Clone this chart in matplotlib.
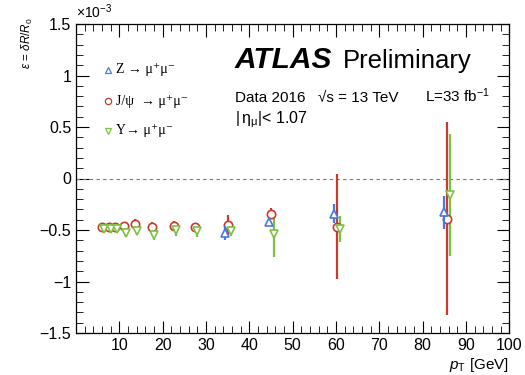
import matplotlib
matplotlib.use("Agg")
import matplotlib.pyplot as plt
from matplotlib.ticker import MultipleLocator

plt.rcParams['font.family'] = ['Liberation Sans', 'DejaVu Sans']
plt.rcParams['mathtext.fontset'] = 'custom'
plt.rcParams['mathtext.rm'] = 'Liberation Sans'
plt.rcParams['mathtext.it'] = 'Liberation Sans:italic'

# J/psi -> mu mu
jpsi_pt = [6, 7.5, 9, 11, 13.5, 17.5, 22.5, 27.5, 35, 45, 60.3, 85.7]
jpsi_eps = [-0.47, -0.47, -0.47, -0.46, -0.44, -0.47, -0.46, -0.475, -0.45, -0.34, -0.47, -0.39]
jpsi_err = [0.03, 0.03, 0.03, 0.04, 0.05, 0.05, 0.05, 0.04, 0.10, 0.05, 0.51, 0.94]

# Upsilon -> mu mu
ups_pt = [6.5, 8, 9.5, 11.5, 14, 18, 23, 28, 35.8, 45.7, 61, 86.3]
ups_eps = [-0.49, -0.49, -0.49, -0.53, -0.51, -0.55, -0.50, -0.51, -0.51, -0.54, -0.49, -0.16]
ups_err = [0.02, 0.02, 0.02, 0.04, 0.04, 0.05, 0.06, 0.06, 0.05, 0.22, 0.13, 0.59]

# Z -> mu mu
z_pt = [34.4, 44.6, 59.6, 85]
z_eps = [-0.53, -0.42, -0.34, -0.33]
z_err = [0.07, 0.03, 0.09, 0.16]

c_z = '#4a78e0'
c_jpsi = '#cc3a2e'
c_ups = '#7cc242'

fig = plt.figure(figsize=(5.25, 3.75), dpi=100)
ax = fig.add_axes([0.145, 0.112, 0.825, 0.824])

ax.axhline(0, color='#777777', lw=0.8, ls=(0, (3, 3)))

ax.errorbar(jpsi_pt, jpsi_eps, yerr=jpsi_err, fmt='o', ms=6, mfc='white',
            mec=c_jpsi, ecolor=c_jpsi, elinewidth=1.6, mew=1.2, capsize=0, zorder=3)
ax.errorbar(ups_pt, ups_eps, yerr=ups_err, fmt='v', ms=6, mfc='white',
            mec=c_ups, ecolor=c_ups, elinewidth=1.6, mew=1.2, capsize=0, zorder=3)
ax.errorbar(z_pt, z_eps, yerr=z_err, fmt='^', ms=6, mfc='white',
            mec=c_z, ecolor=c_z, elinewidth=1.6, mew=1.2, capsize=0, zorder=4)

ax.set_xlim(0, 100)
ax.set_ylim(-1.5, 1.5)
ax.set_xticks(range(10, 101, 10))
ax.xaxis.set_minor_locator(MultipleLocator(2))
ax.set_yticks([-1.5, -1, -0.5, 0, 0.5, 1, 1.5])
ax.set_yticklabels(['\u22121.5', '\u22121', '\u22120.5', '0', '0.5', '1', '1.5'])
ax.yaxis.set_minor_locator(MultipleLocator(0.1))
ax.tick_params(which='both', direction='in', top=True, right=True, labelsize=11.5)
ax.tick_params(which='major', length=9)
ax.tick_params(which='minor', length=5)
for s in ax.spines.values():
    s.set_linewidth(0.9)

ax.text(0.0, 1.01, r'$\times10^{-3}$', transform=ax.transAxes, fontsize=10,
        ha='left', va='bottom')
ax.set_xlabel(r'$p_{\mathrm{T}}$ [GeV]', fontsize=11, loc='right', labelpad=2)
fig.text(0.053, 0.955, r'$\epsilon$ = $\delta R/R_0$', rotation=90,
         fontsize=8.5, ha='center', va='top')

# legend
serif = ['Liberation Serif', 'DejaVu Serif']
leg = [('^', c_z, 'Z \u2192 \u03bc\u207a\u03bc\u207b', 70),
       ('o', c_jpsi, 'J/\u03c8  \u2192 \u03bc\u207a\u03bc\u207b', 101),
       ('v', c_ups, '\u03a5\u2192 \u03bc\u207a\u03bc\u207b', 131)]
for mk, col, lab, ypx in leg:
    yf = 1 - ypx / 375
    ax.plot([108 / 525], [yf], marker=mk, ms=4.5, mfc='white', mec=col, mew=0.9,
            transform=fig.transFigure, clip_on=False)
    fig.text(116 / 525, yf, lab, fontsize=10, ha='left', va='center', family=serif)

fig.text(235 / 525, 1 - 68 / 375, 'ATLAS', fontsize=21.5, fontweight='bold',
         fontstyle='italic', ha='left', va='baseline')
fig.text(343 / 525, 1 - 68 / 375, 'Preliminary', fontsize=18.5, ha='left', va='baseline')
fig.text(235 / 525, 1 - 102 / 375, 'Data 2016', fontsize=11, ha='left', va='baseline')
fig.text(318 / 525, 1 - 102 / 375, '\u221as = 13 TeV', fontsize=11,
         ha='left', va='baseline')
fig.text(425 / 525, 1 - 102 / 375, r'L=33 fb$^{-1}$', fontsize=11, ha='left', va='baseline')
fig.text(235 / 525, 1 - 123 / 375, r'$|\,\mathrm{\eta}_{\mathrm{\mu}}|$< 1.07', fontsize=11.5,
         ha='left', va='baseline')

fig.savefig('out.png', dpi=100)
